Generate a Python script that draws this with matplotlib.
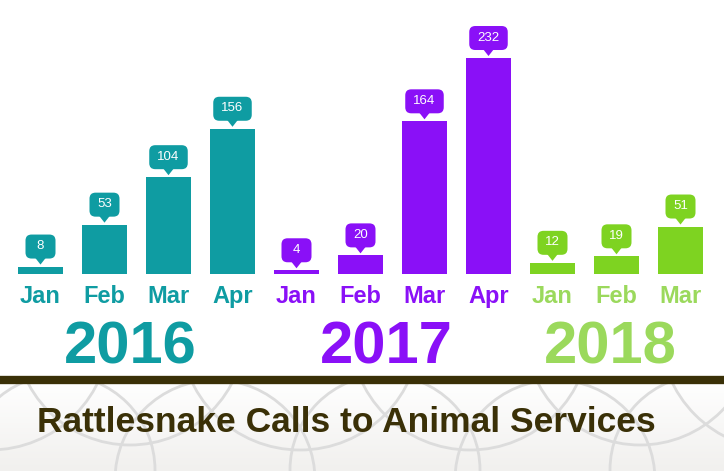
import numpy as np
import matplotlib.pyplot as plt
from matplotlib.patches import FancyBboxPatch, Polygon, Circle, Rectangle
from matplotlib.colors import LinearSegmentedColormap
from matplotlib.transforms import Affine2D

months = ["Jan", "Feb", "Mar", "Apr", "Jan", "Feb", "Mar", "Apr", "Jan", "Feb", "Mar"]
years = ["2016", "2017", "2018"]
year_of_bar = [0, 0, 0, 0, 1, 1, 1, 1, 2, 2, 2]
calls = [8, 53, 104, 156, 4, 20, 164, 232, 12, 19, 51]

bar_colors = ["#0f9ca2", "#8a10f7", "#7ed321"]
text_colors = ["#0f9ca2", "#8a10f7", "#9bd95c"]
title_color = "#3a3007"

W, H = 724, 471
fig = plt.figure(figsize=(W / 100, H / 100), dpi=100)
fig.patch.set_facecolor("white")

# bottom decorative panel
bg = fig.add_axes([0, 0, 1, 1])
bg.set_xlim(0, W)
bg.set_ylim(H, 0)
bg.axis("off")
shade = LinearSegmentedColormap.from_list("shade", ["#ffffff", "#f1f0ee"])
grad = np.linspace(0, 1, 100).reshape(-1, 1)
bg.imshow(grad, extent=(0, W, H, 380), cmap=shade, aspect="auto", zorder=0)
panel = Rectangle((0, 380), W, H - 380, fc="none", ec="none")
bg.add_patch(panel)
for cx, cy, r in [(-10, 330, 120), (130, 330, 115), (300, 330, 120), (470, 330, 120), (640, 330, 115),
                  (780, 330, 120), (60, 470, 95), (215, 480, 100), (385, 470, 95), (555, 480, 100),
                  (705, 470, 95)]:
    c = Circle((cx, cy), r, fc="none", ec="#dcdcdc", lw=2, zorder=1)
    bg.add_patch(c)
    c.set_clip_path(panel)
bg.axhline(379.5, color=title_color, lw=6, zorder=3)
bg.text(346, 422, "Rattlesnake Calls to Animal Services", ha="center", va="center",
        fontsize=25.5, fontweight="bold", color=title_color, stretch="condensed",
        family=["Liberation Sans Narrow", "Liberation Sans"], zorder=4)

# bar chart
scale = 0.931  # pixels per call
top_units = 270
ax = fig.add_axes([8.5 / W, (H - 274) / H, 704 / W, top_units * scale / H])
ax.set_xlim(-0.5, len(calls) - 0.5)
ax.set_ylim(0, top_units)
ax.axis("off")
ax.patch.set_alpha(0)

x = np.arange(len(calls))
cols = [bar_colors[k] for k in year_of_bar]
ax.bar(x, calls, width=45 / 64, color=cols, zorder=2)

for i, v in enumerate(calls):
    c = cols[i]
    px, py = ax.transData.transform((i, v))
    tr = Affine2D().translate(px, py)
    bw = max(30, len(str(v)) * 8.5 + 13)
    box = FancyBboxPatch((-bw / 2, 8), bw, 24, boxstyle="round,pad=0,rounding_size=6",
                         fc=c, ec="none", transform=tr, clip_on=False, zorder=3)
    tri = Polygon([(-5.5, 9), (5.5, 9), (0, 2)], closed=True, fc=c, ec="none",
                  transform=tr, clip_on=False, zorder=3)
    fig.add_artist(box)
    fig.add_artist(tri)
    fig.text(px / W, (py + 20.5) / H, str(v), ha="center", va="center", color="white",
             fontsize=9.5, family="Liberation Sans", zorder=4)
    ax.text(i, -24.5, months[i], ha="center", va="center", fontsize=17, fontweight="bold",
            color=text_colors[year_of_bar[i]], family="Liberation Sans", clip_on=False)

for k, yr in enumerate(years):
    idx = [i for i in range(len(calls)) if year_of_bar[i] == k]
    ax.text(np.mean(idx) - 0.1, -80, yr, ha="center", va="center", fontsize=43, fontweight="bold",
            color=text_colors[k], family="Liberation Sans", clip_on=False)

fig.savefig("out.png", dpi=100)
